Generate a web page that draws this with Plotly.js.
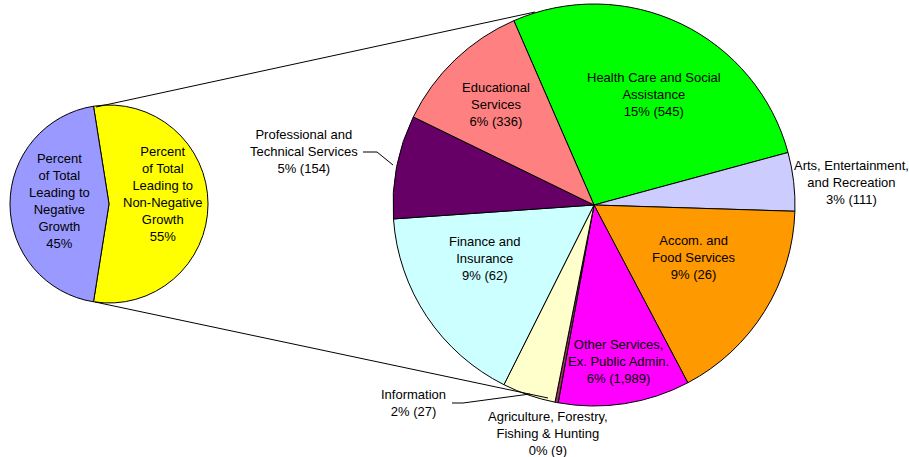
<!DOCTYPE html>
<html>
<head>
<meta charset="utf-8">
<script src="https://cdn.plot.ly/plotly-3.0.1.min.js"></script>
<style>html,body{margin:0;padding:0;background:#fff;}#chart{width:909px;height:457px;}</style>
</head>
<body>
<div id="chart"></div>
<script>
// ---- data ----
var groupLabels = ["Percent<br>of Total<br>Leading to<br>Non-Negative<br>Growth", "Percent<br>of Total<br>Leading to<br>Negative<br>Growth"];
var groupValues = [55, 45];

var sectorLabels = [
  "Health Care and Social<br>Assistance",
  "Arts, Entertainment,<br>and Recreation",
  "Accom. and<br>Food Services",
  "Other Services,<br>Ex. Public Admin.",
  "Agriculture, Forestry,<br>Fishing & Hunting",
  "Information",
  "Finance and<br>Insurance",
  "Professional and<br>Technical Services",
  "Educational<br>Services"
];
var sectorValues = [15.1, 2.6, 9.27, 5.85, 0.14, 2.37, 9.12, 4.6, 6.22];
var sectorPctLabels = ["15%", "3%", "9%", "6%", "0%", "2%", "9%", "5%", "6%"];
var sectorCounts = ["545", "111", "26", "1,989", "9", "27", "62", "154", "336"];

// ---- layout helpers (pixel positions of label centres) ----
var W = 909, H = 457;
function px(x){ return x / W; }
function py(y){ return 1 - y / H; }

var groupColors = ["#FFFF00", "#9999FF"];
var sectorColors = ["#00FF00", "#CCCCFF", "#FF9900", "#FF00FF", "#993366", "#FFFFCC", "#CCFFFF", "#660066", "#FF8080"];

var groupLabelPos = [[163, 194], [60, 201]];
var sectorLabelPos = [[654, 95], [851, 183], [694, 257], [618, 361], [548, 433], [413, 403], [485, 258], [304, 151], [496, 105]];

var font = {family: "Arial, 'Liberation Sans', sans-serif", size: 13, color: "#000"};

var traces = [
  {
    type: "pie", values: groupValues, labels: groupLabels, sort: false,
    direction: "clockwise", rotation: -9,
    marker: {colors: groupColors, line: {color: "#000", width: 1}},
    textinfo: "none", hoverinfo: "none", showlegend: false,
    domain: {x: [px(10), px(208)], y: [py(303), py(105)]}
  },
  {
    type: "pie", values: sectorValues, labels: sectorLabels, sort: false,
    direction: "clockwise", rotation: -23.5,
    marker: {colors: sectorColors, line: {color: "#000", width: 1}},
    textinfo: "none", hoverinfo: "none", showlegend: false,
    domain: {x: [px(393), px(795)], y: [py(406), py(4)]}
  }
];

var annotations = [];
groupLabels.forEach(function(l, i){
  annotations.push({xref: "paper", yref: "paper", x: px(groupLabelPos[i][0]), y: py(groupLabelPos[i][1]),
    xanchor: "center", yanchor: "middle", align: "center", showarrow: false,
    text: l + "<br>" + groupValues[i] + "%", font: font});
});
sectorLabels.forEach(function(l, i){
  annotations.push({xref: "paper", yref: "paper", x: px(sectorLabelPos[i][0]), y: py(sectorLabelPos[i][1]),
    xanchor: "center", yanchor: "middle", align: "center", showarrow: false,
    text: l + "<br>" + sectorPctLabels[i] + " (" + sectorCounts[i] + ")", font: font});
});

function seg(x0, y0, x1, y1){
  return {type: "line", xref: "paper", yref: "paper", x0: px(x0), y0: py(y0), x1: px(x1), y1: py(y1),
    line: {color: "#000", width: 1}};
}
var shapes = [
  seg(96, 107, 535, 12),
  seg(95, 302, 548, 398),
  seg(363, 152, 377, 152), seg(377, 152, 393, 165),
  seg(452, 403, 463, 403), seg(463, 403, 530, 394)
];

var layout = {
  width: W, height: H,
  margin: {l: 0, r: 0, t: 0, b: 0},
  paper_bgcolor: "#fff", plot_bgcolor: "#fff",
  showlegend: false,
  annotations: annotations,
  shapes: shapes,
  font: font
};

Plotly.newPlot("chart", traces, layout, {displayModeBar: false, staticPlot: true});
</script>
</body>
</html>
